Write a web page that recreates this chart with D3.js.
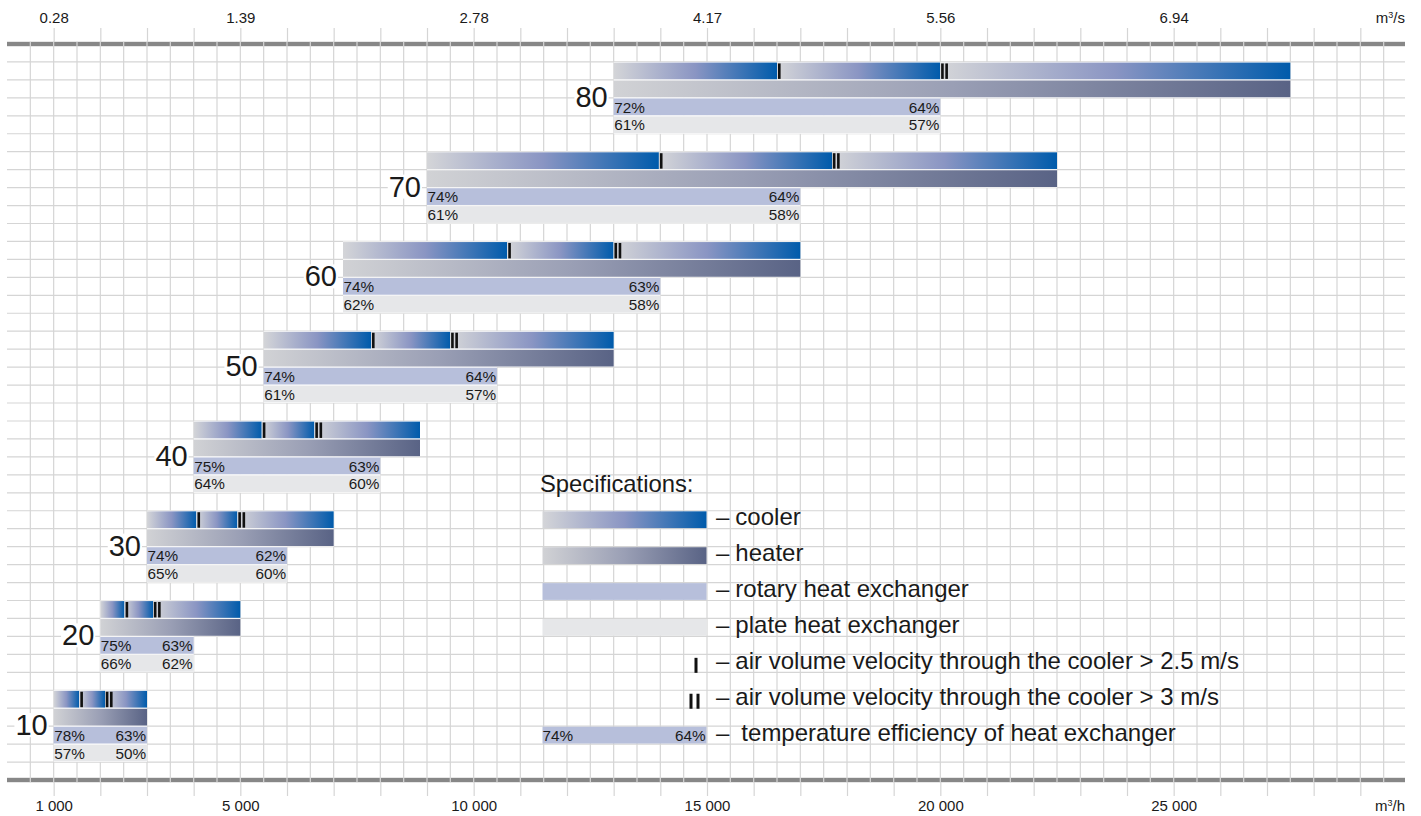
<!DOCTYPE html>
<html>
<head>
<meta charset="utf-8">
<script src="https://cdn.jsdelivr.net/npm/d3@7"></script>
<style>
  body { margin: 0; background: #fff; }
  svg { display: block; }
  text { font-family: "Liberation Sans", Arial, sans-serif; fill: #1a1a1a; }
</style>
</head>
<body>
<svg id="chart"></svg>
<script>
const SVG_WIDTH = 1421;
const SVG_HEIGHT = 816;

// unit sizes, top to bottom
const sizes = [80, 70, 60, 50, 40, 30, 20, 10];
// air flow range of each unit, m3/h
const flowStart = [13000, 9000, 7200, 5500, 4000, 3000, 2000, 1000];
const flowEnd = [27500, 22500, 17000, 13000, 8850, 7000, 5000, 3000];
// cooler velocity marks (I > 2.5 m/s, II > 3 m/s)
const markI = [16500, 13970, 10720, 7800, 5460, 4060, 2520, 1550];
const markII = [20000, 17680, 13000, 9500, 6590, 4940, 3130, 2100];
// heat exchanger range end
const hxEnd = [20000, 17000, 14000, 10500, 8000, 6000, 4000, 3000];
const rotaryLeft = [72, 74, 74, 74, 75, 74, 75, 78];
const rotaryRight = [64, 64, 63, 64, 63, 62, 63, 63];
const plateLeft = [61, 61, 62, 61, 64, 65, 66, 57];
const plateRight = [57, 58, 58, 57, 60, 60, 62, 50];

const tickFlow = [1000, 5000, 10000, 15000, 20000, 25000];
const tickFlowLabels = ["1 000", "5 000", "10 000", "15 000", "20 000", "25 000"];
const tickSecLabels = ["0.28", "1.39", "2.78", "4.17", "5.56", "6.94"];

const legendItems = ["cooler", "heater", "rotary heat exchanger", "plate heat exchanger",
    "air volume velocity through the cooler > 2.5 m/s",
    "air volume velocity through the cooler > 3 m/s",
    "temperature efficiency of heat exchanger"];

const GRID_COLOUR = "#d5d5d5";
const ROTARY_COLOUR = "#b7bfdb";
const PLATE_COLOUR = "#e6e7e9";

const svg = d3.select("#chart")
    .attr("width", SVG_WIDTH)
    .attr("height", SVG_HEIGHT);

const x = d3.scaleLinear().domain([0, 30000]).range([7, 1407]);
const row = d3.scaleLinear().domain([0, 41]).range([44, 780]);
const rowH = row(1) - row(0);

// gradients
const defs = svg.append("defs");
function addGradient(id, stops) {
    const g = defs.append("linearGradient").attr("id", id)
        .attr("x1", 0).attr("x2", 1).attr("y1", 0).attr("y2", 0);
    stops.forEach(([o, c]) => g.append("stop").attr("offset", o).attr("stop-color", c));
}
addGradient("coolGrad", [[0, "#d4d5d8"], [0.5, "#8a95c3"], [1, "#005bab"]]);
addGradient("heatGrad", [[0, "#d1d2d5"], [0.5, "#9a9fb5"], [1, "#596385"]]);

// thick axis lines
[row(0), row(41)].forEach(yy => {
    svg.append("rect")
        .attr("x", x(0)).attr("y", yy - 2.2)
        .attr("width", x(30000) - x(0) - 2).attr("height", 4.4)
        .attr("fill", "#878787");
});

// grid
const grid = svg.append("g");
grid.selectAll("line.v")
    .data(d3.range(500, 30000, 500))
    .join("line")
    .attr("x1", d => x(d)).attr("x2", d => x(d))
    .attr("y1", row(0) - 2.2).attr("y2", row(41) + 2.2)
    .attr("stroke", GRID_COLOUR).attr("stroke-width", 1.2);
grid.selectAll("line.h")
    .data(d3.range(1, 41))
    .join("line")
    .attr("x1", x(0)).attr("x2", x(30000) - 2)
    .attr("y1", d => row(d)).attr("y2", d => row(d))
    .attr("stroke", GRID_COLOUR).attr("stroke-width", 1.2);

// ticks every 1000 outside the frame
const minorTicks = d3.range(1000, 30000, 1000);
const topTicks = svg.append("g").attr("transform", `translate(0,${row(0) - 2})`)
    .call(d3.axisTop(x).tickValues(minorTicks).tickSize(14).tickFormat(""));
const botTicks = svg.append("g").attr("transform", `translate(0,${row(41) + 2})`)
    .call(d3.axisBottom(x).tickValues(minorTicks).tickSize(14).tickFormat(""));
[topTicks, botTicks].forEach(g => {
    g.select(".domain").remove();
    g.selectAll("line").attr("stroke", GRID_COLOUR).attr("stroke-width", 1.2);
});

// axis labels
const topAxis = svg.append("g").attr("transform", "translate(0,23)")
    .call(d3.axisTop(x).tickValues(tickFlow).tickSize(0).tickPadding(0)
        .tickFormat((d, i) => tickSecLabels[i]));
const botAxis = svg.append("g").attr("transform", "translate(0,800)")
    .call(d3.axisBottom(x).tickValues(tickFlow).tickSize(0).tickPadding(0)
        .tickFormat((d, i) => tickFlowLabels[i]));
[topAxis, botAxis].forEach(g => {
    g.select(".domain").remove();
    g.selectAll("text")
        .style("font-family", '"Liberation Sans", Arial, sans-serif')
        .style("font-size", "15px")
        .attr("fill", "#1a1a1a");
});

function unitLabel(yy, txt) {
    const t = svg.append("text")
        .attr("x", x(30000) - 2).attr("y", yy)
        .attr("text-anchor", "end")
        .style("font-size", "15px");
    t.append("tspan").text("m");
    t.append("tspan").text("3").style("font-size", "9px").attr("dy", -5);
    t.append("tspan").text(txt).attr("dy", 5);
}
unitLabel(23, "/s");
unitLabel(811, "/h");

// bars
function bar(target, v0, v1, r, fill) {
    target.append("rect")
        .attr("x", x(v0)).attr("y", row(r))
        .attr("width", x(v1) - x(v0)).attr("height", rowH)
        .attr("fill", "#fff");
    target.append("rect")
        .attr("x", x(v0)).attr("y", row(r) + 0.6)
        .attr("width", x(v1) - x(v0)).attr("height", rowH - 1.2)
        .attr("fill", fill);
}

function marker(target, xPos, r, double) {
    const bars = double ? [0.8, 5] : [1];
    bars.forEach(off => {
        target.append("rect")
            .attr("x", xPos + off).attr("y", row(r) + 1.5)
            .attr("width", 2.6).attr("height", rowH - 2.5)
            .attr("fill", "#111");
    });
}

function pctText(target, xPos, r, txt, anchor) {
    target.append("text")
        .attr("x", xPos).attr("y", row(r + 1) - 3.3)
        .attr("text-anchor", anchor)
        .style("font-size", "15.3px")
        .text(txt + "%");
}

const bars = svg.append("g");
for (let i = 0; i < sizes.length; i++) {
    const r0 = 1 + i * 5;
    const g = bars.append("g");

    // cooler, split into gradient segments at the velocity marks
    const cuts = [flowStart[i], markI[i], markII[i], flowEnd[i]];
    for (let s = 0; s < 3; s++) {
        bar(g, cuts[s], cuts[s + 1], r0, "url(#coolGrad)");
    }
    marker(g, x(markI[i]), r0, false);
    marker(g, x(markII[i]), r0, true);

    bar(g, flowStart[i], flowEnd[i], r0 + 1, "url(#heatGrad)");
    bar(g, flowStart[i], hxEnd[i], r0 + 2, ROTARY_COLOUR);
    bar(g, flowStart[i], hxEnd[i], r0 + 3, PLATE_COLOUR);

    pctText(g, x(flowStart[i]) + 0.5, r0 + 2, rotaryLeft[i], "start");
    pctText(g, x(hxEnd[i]) - 1, r0 + 2, rotaryRight[i], "end");
    pctText(g, x(flowStart[i]) + 0.5, r0 + 3, plateLeft[i], "start");
    pctText(g, x(hxEnd[i]) - 1, r0 + 3, plateRight[i], "end");

    const lbl = g.append("text")
        .attr("x", x(flowStart[i]) - 6).attr("y", row(r0 + 2.5))
        .attr("text-anchor", "end")
        .style("font-size", "29px")
        .text(sizes[i]);
    const bb = lbl.node().getBBox();
    g.insert("rect", "text")
        .attr("x", bb.x - 1).attr("y", bb.y + 4)
        .attr("width", bb.width + 2).attr("height", bb.height - 8)
        .attr("fill", "#fff");
}

// legend
const legend = svg.append("g");
const lx0 = 542.5, lx1 = 706.5;
legend.append("text")
    .attr("x", 540).attr("y", row(25) - 1)
    .style("font-size", "23.8px")
    .text("Specifications:");

const legendFills = ["url(#coolGrad)", "url(#heatGrad)", ROTARY_COLOUR, PLATE_COLOUR];
legendFills.forEach((f, i) => {
    legend.append("rect")
        .attr("x", lx0).attr("y", row(26 + 2 * i) + 0.6)
        .attr("width", lx1 - lx0).attr("height", rowH - 1.2)
        .attr("fill", f);
});
// I and II glyphs
legend.append("rect").attr("x", 694.5).attr("y", row(34) + 3.5)
    .attr("width", 3).attr("height", 15).attr("fill", "#111");
[689.5, 696.5].forEach(xx => legend.append("rect").attr("x", xx).attr("y", row(36) + 3.5)
    .attr("width", 3).attr("height", 15).attr("fill", "#111"));
// efficiency sample
legend.append("rect")
    .attr("x", lx0).attr("y", row(38) + 0.6)
    .attr("width", lx1 - lx0).attr("height", rowH - 1.2)
    .attr("fill", ROTARY_COLOUR);
legend.append("text").attr("x", lx0).attr("y", row(39) - 3.3)
    .style("font-size", "15.3px").text("74%");
legend.append("text").attr("x", lx1 - 1).attr("y", row(39) - 3.3)
    .attr("text-anchor", "end").style("font-size", "15.3px").text("64%");

legendItems.forEach((txt, i) => {
    const t = legend.append("text")
        .attr("x", 716).attr("y", row(27 + 2 * i) - 3.5)
        .style("font-size", "24px");
    t.append("tspan").text("–");
    t.append("tspan").attr("dx", i === 6 ? 12 : 6).text(txt);
});
</script>
</body>
</html>
